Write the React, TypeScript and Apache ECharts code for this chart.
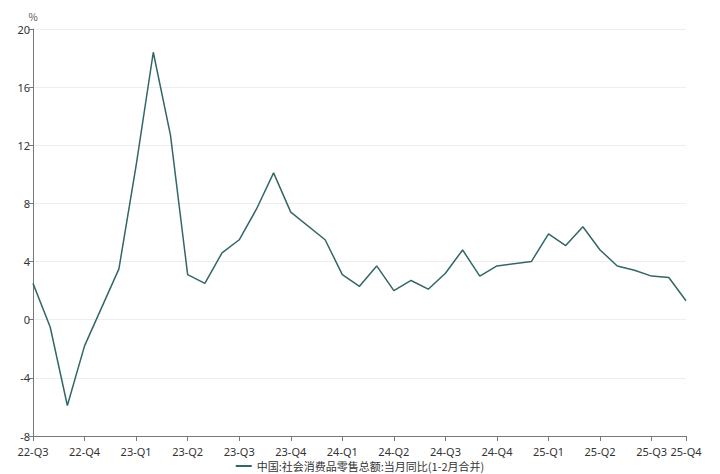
import React, { useEffect, useRef } from "react";
import * as echarts from "echarts";

const months: string[] = [
  "2022-09","2022-10","2022-11","2022-12",
  "2023-01","2023-02","2023-03","2023-04","2023-05","2023-06","2023-07","2023-08","2023-09","2023-10","2023-11","2023-12",
  "2024-01","2024-02","2024-03","2024-04","2024-05","2024-06","2024-07","2024-08","2024-09","2024-10","2024-11","2024-12",
  "2025-01","2025-02","2025-03","2025-04","2025-05","2025-06","2025-07","2025-08","2025-09","2025-10","2025-11",
];

const retailYoY: (number | null)[] = [
  2.5, -0.5, -5.9, -1.8,
  null, 3.5, 10.6, 18.4, 12.7, 3.1, 2.5, 4.6, 5.5, 7.6, 10.1, 7.4,
  null, 5.5, 3.1, 2.3, 3.7, 2.0, 2.7, 2.1, 3.2, 4.8, 3.0, 3.7,
  null, 4.0, 5.9, 5.1, 6.4, 4.8, 3.7, 3.4, 3.0, 2.9, 1.3,
];

const seriesName = "中国:社会消费品零售总额:当月同比(1-2月合并)";
const unitLabel = "%";
const yTicks = { min: -8, max: 20, interval: 4 };

function quarterLabel(m: string, idx: number): string {
  const yy = m.slice(2, 4);
  const mon = parseInt(m.slice(5, 7), 10);
  const q = Math.ceil(mon / 3);
  if (idx === months.length - 1) return `${yy}-Q${q}`;
  if (mon % 3 === 0) return `${yy}-Q${q}`;
  return "";
}

const showIdx = (i: number) => i === months.length - 1 || parseInt(months[i].slice(5, 7), 10) % 3 === 0;

export default function App() {
  const ref = useRef<HTMLDivElement>(null);
  useEffect(() => {
    if (!ref.current) return;
    const chart = echarts.init(ref.current, undefined, { renderer: "svg" });
    const font = "'Noto Sans CJK SC', 'Noto Sans', sans-serif";
    const numFont = "'Noto Sans', 'Liberation Sans', sans-serif";
    chart.setOption({
      animation: false,
      textStyle: { fontFamily: font },
      grid: { left: 33, right: 34, top: 29, bottom: 38, containLabel: false },
      legend: {
        bottom: 0,
        left: "center",
        itemWidth: 16,
        itemHeight: 2,
        icon: "rect",
        itemGap: 10,
        padding: [0, 5, 2, 5],
        textStyle: { fontSize: 11, color: "#333", fontFamily: font, lineHeight: 12 },
        data: [seriesName],
      },
      xAxis: {
        type: "category",
        data: months,
        boundaryGap: false,
        axisLine: { onZero: false, lineStyle: { color: "#777", width: 1 } },
        axisTick: {
          alignWithLabel: true,
          length: 5,
          lineStyle: { color: "#777" },
          interval: (i: number) => showIdx(i),
        },
        axisLabel: {
          interval: (i: number) => showIdx(i),
          formatter: (v: string, i: number) => quarterLabel(v, i),
          color: "#333",
          fontSize: 11,
          lineHeight: 12,
          margin: 9,
          fontFamily: numFont,
        },
        splitLine: { show: false },
      },
      yAxis: {
        type: "value",
        min: yTicks.min,
        max: yTicks.max,
        interval: yTicks.interval,
        name: unitLabel,
        nameLocation: "end",
        nameGap: 8,
        nameTextStyle: { color: "#555", fontSize: 10, align: "center" },
        axisLine: { show: true, lineStyle: { color: "#777", width: 1 } },
        axisTick: { show: true, length: 4, lineStyle: { color: "#777" } },
        axisLabel: { color: "#333", fontSize: 11, lineHeight: 10, margin: 3, fontFamily: numFont },
        splitLine: { lineStyle: { color: "#eeeeee", width: 1 } },
      },
      series: [
        {
          name: seriesName,
          type: "line",
          data: retailYoY,
          connectNulls: true,
          symbol: "none",
          lineStyle: { color: "#336666", width: 1.5 },
          itemStyle: { color: "#336666" },
        },
      ],
    });
    return () => chart.dispose();
  }, []);
  return <div ref={ref} style={{ width: 720, height: 474, position: "absolute", left: 0, top: 0 }} />;
}
